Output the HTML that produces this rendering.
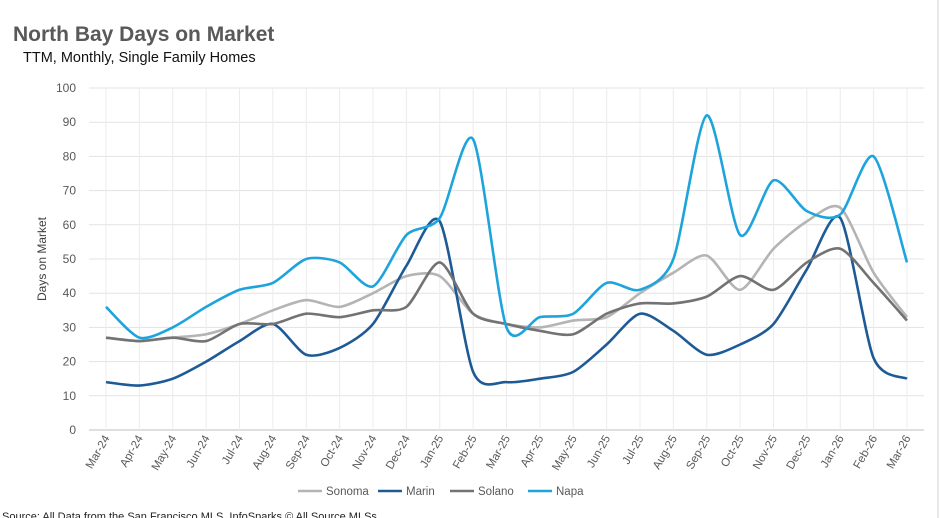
<!DOCTYPE html>
<html><head><meta charset="utf-8"><style>
body{margin:0;background:#fff;font-family:"Liberation Sans",sans-serif;}
svg{display:block}
</style></head><body>
<svg id="c" width="940" height="518">
<text x="13" y="41" font-size="21" font-weight="bold" fill="#595959">North Bay Days on Market</text>
<text x="23" y="62" font-size="14.5" fill="#111">TTM, Monthly, Single Family Homes</text>
<text transform="translate(46,259) rotate(-90)" text-anchor="middle" font-size="12" fill="#404040">Days on Market</text>
<text x="2" y="520" font-size="11" fill="#222">Source: All Data from the San Francisco MLS, InfoSparks © All Source MLSs</text>
<line x1="938" y1="0" x2="938" y2="518" stroke="#d0d0d0"/>
<g id="grid"></g><g id="lines"></g><g id="legend"></g>
</svg>
<script>
const categories=["Mar-24","Apr-24","May-24","Jun-24","Jul-24","Aug-24","Sep-24","Oct-24","Nov-24","Dec-24","Jan-25","Feb-25","Mar-25","Apr-25","May-25","Jun-25","Jul-25","Aug-25","Sep-25","Oct-25","Nov-25","Dec-25","Jan-26","Feb-26","Mar-26"];
const yTicks=[0,10,20,30,40,50,60,70,80,90,100];
const sonoma=[27,26,27,28,31,35,38,36,40,45,45,34,31,30,32,33,40,46,51,41,53,61,65,46,33];
const marin=[14,13,15,20,26,31,22,24,31,48,61,17,14,15,17,25,34,29,22,25,31,47,62,21,15];
const solano=[27,26,27,26,31,31,34,33,35,36,49,34,31,29,28,34,37,37,39,45,41,49,53,43,32];
const napa=[36,27,30,36,41,43,50,49,42,57,62,85,30,33,34,43,41,50,92,57,73,64,63,80,49];
const seriesNames=["Sonoma","Marin","Solano","Napa"];
const seriesData=[sonoma,marin,solano,napa];
const colors=["#b4b4b4","#1d5a96","#737373","#1ea4dc"];
const NS="http://www.w3.org/2000/svg";
const x0=106,x1=907,yTop=88,yBot=430;
const xs=i=>x0+i*(x1-x0)/(categories.length-1);
const ys=v=>yBot-v*(yBot-yTop)/100;
function mk(t,a,p){const e=document.createElementNS(NS,t);for(const k in a)e.setAttribute(k,a[k]);p.appendChild(e);return e;}
const grid=document.getElementById('grid');
yTicks.forEach(v=>{
 const l=mk('line',{x1:x0-17,x2:x1+17,y1:ys(v),y2:ys(v),stroke:v===0?'#bfbfbf':'#e3e3e3'},grid);
 
 
 const t=mk('text',{x:76,y:ys(v)+4,'text-anchor':'end','font-size':12,fill:'#595959'},grid);
 t.textContent=v;
 
 
});
categories.forEach((c,i)=>{
 const l=mk('line',{x1:xs(i),x2:xs(i),y1:yTop,y2:yBot,stroke:'#ececec'},grid);
 
 
 const t=mk('text',{transform:`translate(${xs(i)+4},${yBot+8}) rotate(-60)`,'text-anchor':'end','font-size':11.5,fill:'#595959'},grid);
 t.textContent=c;
 
 
});
function smooth(d){
 const p=d.map((v,i)=>[xs(i),ys(v)]);let s=`M${p[0][0]},${p[0][1]}`;
 for(let i=0;i<p.length-1;i++){const a=p[i-1]||p[i],b=p[i],c=p[i+1],e=p[i+2]||c;const t=0.13;
  s+=` C${b[0]+(c[0]-a[0])*t},${b[1]+(c[1]-a[1])*t} ${c[0]-(e[0]-b[0])*t},${c[1]-(e[1]-b[1])*t} ${c[0]},${c[1]}`;}
 return s;}
const lines=document.getElementById('lines');
seriesData.forEach((d,k)=>{
 const p=mk('path',{d:smooth(d),fill:'none',stroke:colors[k],'stroke-width':2.6,'stroke-linejoin':'round'},lines);
 
 
});
const lg=document.getElementById('legend');
const lx=[298,378,450,528];
seriesNames.forEach((n,k)=>{
 const l=mk('line',{x1:lx[k],x2:lx[k]+24,y1:491,y2:491,stroke:colors[k],'stroke-width':2.6},lg);
 
 
 const t=mk('text',{x:lx[k]+28,y:495,'font-size':11.5,fill:'#595959'},lg);
 t.textContent=n;
 
 
});
</script>
</body></html>
